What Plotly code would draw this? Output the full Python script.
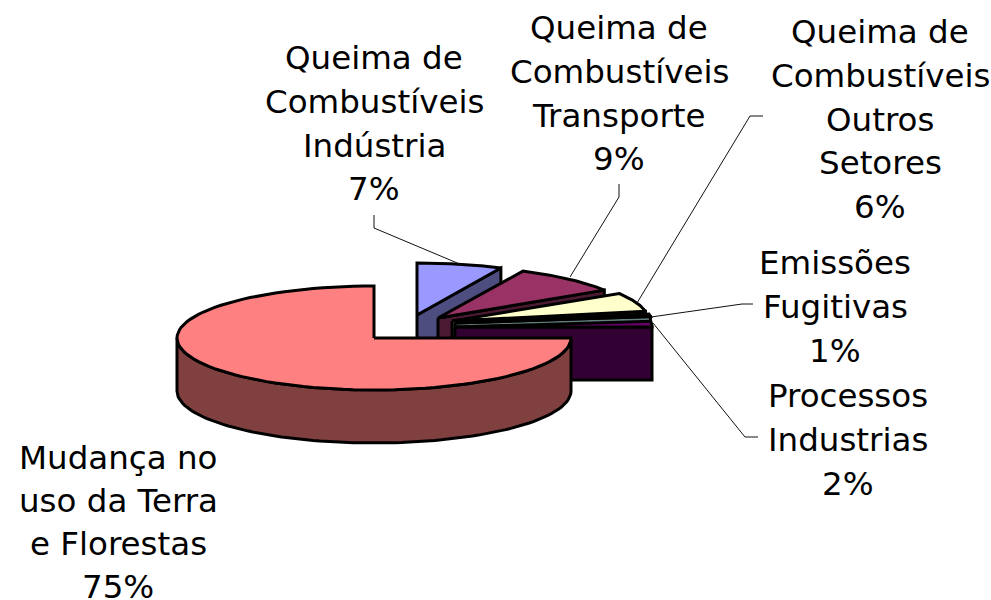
import math
import plotly.graph_objects as go

# ---- data ----
categories = ["Queima de Combustíveis Indústria", "Queima de Combustíveis Transporte",
              "Queima de Combustíveis Outros Setores", "Emissões Fugitivas",
              "Processos Industrias", "Mudança no uso da Terra e Florestas"]
values = [7, 9, 6, 1, 2, 75]
label_lines = [["Queima de", "Combustíveis", "Indústria"],
               ["Queima de", "Combustíveis", "Transporte"],
               ["Queima de", "Combustíveis", "Outros", "Setores"],
               ["Emissões", "Fugitivas"],
               ["Processos", "Industrias"],
               ["Mudança no", "uso da Terra", "e Florestas"]]

# ---- styles / layout ----
top_colors = ["#9999FF", "#993366", "#FFFFCC", "#CCFFFF", "#660066", "#FF8080"]
side_colors = ["#4D4D80", "#4D1A33", "#808066", "#668080", "#330033", "#804040"]
apex = [(417, 315), (438, 318), (452, 321), (455, 323), (455, 327), (374, 338)]
RX, RY, DEPTH = 197, 52, 53
label_x = [374, 619, 880, 835, 848, 118]
label_y0 = [58, 28, 32, 263, 396, 458]
label_gap = [43.8, 43.8, 43.8, 43.8, 43.8, 43.0]
leaders = [[(374, 215), (374, 228), (462, 265)],
           [(619, 184), (619, 197), (570, 277)],
           [(763, 116), (750, 116), (637, 303)],
           [(753, 304), (742, 304), (651, 317)],
           [(758, 437), (745, 437), (653, 323)]]
EDGE = "#000000"
FONT = dict(family="DejaVu Sans", size=32.5, color="#000000")

fig = go.Figure()


def pt(c, deg, drop=0):
    a = math.radians(deg)
    return c[0] + RX * math.sin(a), c[1] - RY * math.cos(a) + drop


def poly(pts, color):
    fig.add_trace(go.Scatter(x=[p[0] for p in pts] + [pts[0][0]],
                             y=[p[1] for p in pts] + [pts[0][1]],
                             mode="lines", fill="toself", fillcolor=color,
                             line=dict(color=EDGE, width=3), hoverinfo="skip"))


start = 0.0
for i, v in enumerate(values):
    end = start + v * 3.6
    c = apex[i]
    arc = [pt(c, start + (end - start) * k / 90) for k in range(91)]
    if end <= 180:  # exploded slice: visible cut face
        p = pt(c, end)
        poly([c, p, (p[0], p[1] + DEPTH), (c[0], c[1] + DEPTH)], side_colors[i])
    # visible rim (front half of the ellipse)
    a0, a1 = max(start, 90), min(end, 270)
    if a1 > a0:
        front = [pt(c, a0 + (a1 - a0) * k / 90) for k in range(91)]
        back = [(x, y + DEPTH) for x, y in reversed(front)]
        poly(front + back, side_colors[i])
    poly([c] + arc, top_colors[i])
    start = end

for seg in leaders:
    fig.add_trace(go.Scatter(x=[p[0] for p in seg], y=[p[1] for p in seg], mode="lines",
                             line=dict(color="#111111", width=1), hoverinfo="skip"))

for i, (lines, v) in enumerate(zip(label_lines, values)):
    for j, t in enumerate(lines + [f"{v}%"]):
        fig.add_annotation(x=label_x[i], y=label_y0[i] + j * label_gap[i], text=t,
                           showarrow=False, font=FONT, xanchor="center", yanchor="middle")

fig.update_layout(width=991, height=600, margin=dict(l=0, r=0, t=0, b=0),
                  paper_bgcolor="white", plot_bgcolor="white", showlegend=False,
                  xaxis=dict(range=[0, 991], visible=False, fixedrange=True),
                  yaxis=dict(range=[600, 0], visible=False, fixedrange=True))
fig.write_html("out.html", config={"displayModeBar": False},
               post_script="document.body.style.margin='0';document.body.style.overflow='hidden';")
